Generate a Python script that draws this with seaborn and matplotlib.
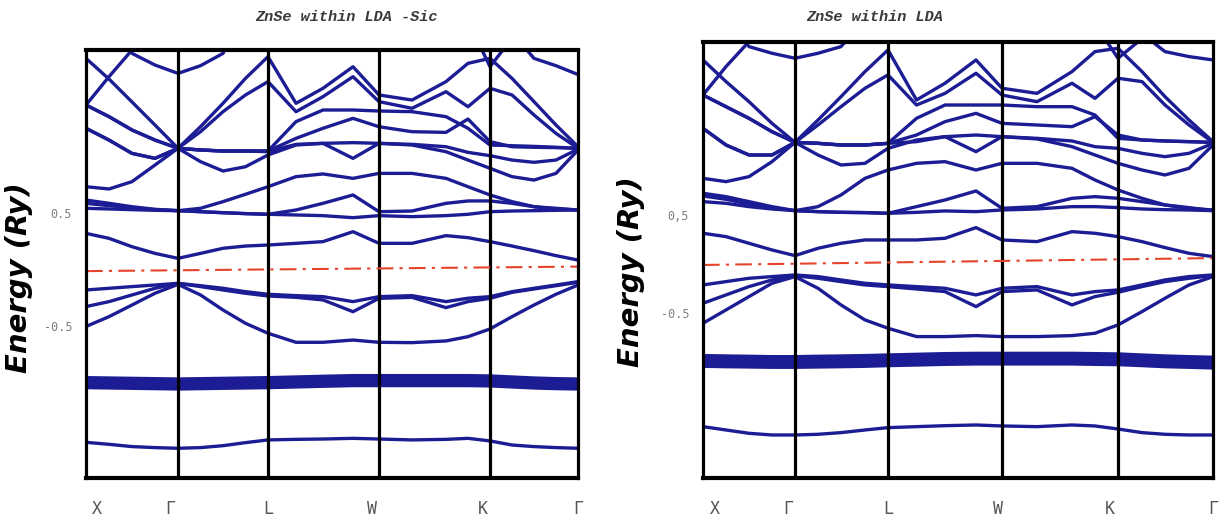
import numpy as np
import pandas as pd
import matplotlib
matplotlib.use("Agg")
import matplotlib.pyplot as plt
import seaborn as sns

# ---------------- data ----------------
# k-path sample positions (path distance) and high-symmetry points
k_left = [0, 23, 46, 69, 92, 114.5, 137, 159.5, 182, 210, 237, 267, 293, 326, 360, 382, 404, 426, 448, 470, 492]
k_right = [0, 23, 46, 69, 92, 115, 138, 162, 185, 213.5, 242, 273, 299, 334, 369, 392, 415, 439, 462, 486, 510]
sym_left = [0, 92, 182, 293, 404, 492]
sym_right = [0, 92, 185, 299, 415, 510]
kpoint_labels = ["X", "Γ", "L", "W", "K", "Γ"]
label_pos_left = [11, 84, 182, 286, 397, 492]
label_pos_right = [12, 85, 185, 295, 407, 510]

titles = ["ZnSe within LDA -Sic", "ZnSe within LDA"]
ylabel = "Energy (Ry)"
ytick_vals = [0.5, -0.5]
ytick_labels_left = ["0.5", "-0.5"]
ytick_labels_right = ["0,5", "-0.5"]
fermi_left = [-0.01, 0.03]
fermi_right = [-0.01, 0.06]

# ---- left panel (LDA-SIC) energies (Ry) ----
L_bottom = [-1.525, -1.543, -1.563, -1.572, -1.578, -1.572, -1.555, -1.528, -1.504, -1.499, -1.496, -1.490, -1.496, -1.504, -1.499, -1.490, -1.513, -1.549, -1.563, -1.572, -1.578]
L_d_top = [-0.953, -0.956, -0.959, -0.962, -0.965, -0.962, -0.959, -0.956, -0.953, -0.947, -0.941, -0.935, -0.935, -0.935, -0.935, -0.935, -0.938, -0.947, -0.956, -0.962, -0.965]
L_d_bot = [-1.041, -1.044, -1.047, -1.050, -1.053, -1.050, -1.047, -1.044, -1.041, -1.035, -1.029, -1.023, -1.023, -1.023, -1.023, -1.023, -1.026, -1.035, -1.044, -1.050, -1.053]
L_vb3 = [-0.500, -0.413, -0.310, -0.206, -0.127, -0.221, -0.354, -0.472, -0.560, -0.640, -0.640, -0.620, -0.640, -0.643, -0.628, -0.590, -0.522, -0.413, -0.310, -0.215, -0.133]
L_vb2 = [-0.324, -0.280, -0.221, -0.162, -0.118, -0.147, -0.177, -0.206, -0.230, -0.242, -0.265, -0.369, -0.251, -0.242, -0.333, -0.280, -0.251, -0.198, -0.168, -0.139, -0.109]
L_vb1 = [-0.177, -0.162, -0.147, -0.133, -0.118, -0.139, -0.162, -0.192, -0.215, -0.227, -0.236, -0.280, -0.236, -0.227, -0.280, -0.250, -0.236, -0.192, -0.162, -0.133, -0.103]
L_cb1 = [0.324, 0.280, 0.206, 0.147, 0.103, 0.147, 0.192, 0.212, 0.221, 0.236, 0.251, 0.339, 0.236, 0.236, 0.304, 0.286, 0.251, 0.212, 0.171, 0.127, 0.088]
L_cb2 = [0.546, 0.540, 0.534, 0.528, 0.525, 0.516, 0.507, 0.499, 0.493, 0.487, 0.481, 0.463, 0.481, 0.472, 0.481, 0.493, 0.516, 0.522, 0.525, 0.528, 0.531]
L_cb3 = [0.619, 0.590, 0.560, 0.537, 0.525, 0.546, 0.605, 0.670, 0.737, 0.826, 0.850, 0.811, 0.855, 0.855, 0.811, 0.737, 0.664, 0.605, 0.560, 0.540, 0.531]
L_cb4 = [0.590, 0.569, 0.552, 0.534, 0.525, 0.516, 0.507, 0.499, 0.493, 0.531, 0.590, 0.664, 0.516, 0.522, 0.590, 0.611, 0.611, 0.590, 0.560, 0.546, 0.531]
L_cb5 = [0.737, 0.717, 0.782, 0.929, 1.077, 0.959, 0.876, 0.914, 1.018, 1.106, 1.121, 0.988, 1.121, 1.106, 1.047, 0.973, 0.900, 0.826, 0.796, 0.855, 1.062]
L_cb6 = [1.254, 1.150, 1.032, 0.988, 1.077, 1.062, 1.053, 1.053, 1.047, 1.112, 1.121, 1.127, 1.121, 1.112, 1.091, 1.041, 1.012, 0.973, 0.953, 0.973, 1.070]
L_cb7 = [1.254, 1.150, 1.032, 0.988, 1.077, 1.062, 1.053, 1.053, 1.053, 1.165, 1.254, 1.342, 1.268, 1.224, 1.218, 1.336, 1.136, 1.091, 1.086, 1.083, 1.077]
L_cb8 = [1.460, 1.357, 1.239, 1.150, 1.077, 1.062, 1.053, 1.053, 1.053, 1.313, 1.416, 1.416, 1.407, 1.401, 1.357, 1.254, 1.106, 1.100, 1.094, 1.086, 1.077]
L_cb9 = [1.460, 1.357, 1.239, 1.150, 1.077, 1.224, 1.401, 1.549, 1.667, 1.401, 1.534, 1.711, 1.490, 1.431, 1.578, 1.445, 1.608, 1.549, 1.372, 1.209, 1.077]
L_cb10 = [1.873, 1.690, 1.487, 1.283, 1.077, 1.268, 1.475, 1.696, 1.888, 1.475, 1.608, 1.799, 1.549, 1.504, 1.667, 1.829, 1.873, 1.696, 1.490, 1.283, 1.091]
L_cb11 = [1.460, 1.711, 1.947, 2.168, 2.400, 2.400, 2.400, 2.400, 2.400, 2.400, 2.400, 2.400, 2.400, 2.400, 2.400, 2.200, 1.800, 2.050, 2.400, 2.400, 2.400]
L_cb12 = [2.500, 2.300, 1.917, 1.814, 1.740, 1.808, 1.917, 2.300, 2.500, 2.500, 2.500, 2.500, 2.500, 2.500, 2.500, 2.500, 2.500, 2.100, 1.873, 1.808, 1.730]

# ---- right panel (LDA) energies (Ry) ----
R_bottom = [-1.660, -1.694, -1.728, -1.745, -1.745, -1.738, -1.721, -1.694, -1.670, -1.660, -1.650, -1.643, -1.653, -1.660, -1.643, -1.653, -1.684, -1.721, -1.738, -1.745, -1.745]
R_d_top = [-0.935, -0.939, -0.942, -0.946, -0.946, -0.942, -0.939, -0.935, -0.929, -0.922, -0.915, -0.912, -0.912, -0.912, -0.912, -0.915, -0.918, -0.929, -0.939, -0.946, -0.952]
R_d_bot = [-1.044, -1.048, -1.051, -1.054, -1.054, -1.051, -1.048, -1.044, -1.037, -1.031, -1.024, -1.020, -1.020, -1.020, -1.020, -1.024, -1.027, -1.037, -1.048, -1.054, -1.061]
R_vb3 = [-0.605, -0.469, -0.333, -0.197, -0.129, -0.248, -0.418, -0.571, -0.656, -0.741, -0.741, -0.731, -0.741, -0.741, -0.731, -0.707, -0.622, -0.486, -0.350, -0.214, -0.129]
R_vb2 = [-0.401, -0.316, -0.231, -0.163, -0.119, -0.146, -0.180, -0.214, -0.231, -0.255, -0.282, -0.435, -0.282, -0.265, -0.418, -0.333, -0.289, -0.231, -0.180, -0.146, -0.119]
R_vb1 = [-0.214, -0.180, -0.146, -0.129, -0.112, -0.129, -0.163, -0.197, -0.214, -0.231, -0.248, -0.316, -0.248, -0.231, -0.316, -0.282, -0.265, -0.214, -0.163, -0.129, -0.112]
R_cb1 = [0.313, 0.279, 0.211, 0.143, 0.085, 0.160, 0.211, 0.245, 0.245, 0.245, 0.262, 0.371, 0.245, 0.228, 0.330, 0.313, 0.279, 0.228, 0.167, 0.109, 0.075]
R_cb2 = [0.636, 0.619, 0.585, 0.561, 0.544, 0.534, 0.527, 0.524, 0.517, 0.527, 0.541, 0.534, 0.551, 0.561, 0.585, 0.585, 0.575, 0.561, 0.554, 0.551, 0.544]
R_cb3 = [0.721, 0.687, 0.636, 0.585, 0.544, 0.585, 0.704, 0.874, 0.959, 1.027, 1.044, 0.959, 1.027, 1.027, 0.976, 0.857, 0.755, 0.670, 0.602, 0.568, 0.551]
R_cb4 = [0.694, 0.660, 0.609, 0.575, 0.544, 0.534, 0.527, 0.524, 0.517, 0.585, 0.653, 0.745, 0.568, 0.585, 0.670, 0.687, 0.670, 0.636, 0.602, 0.575, 0.544]
R_cb5 = [0.874, 0.840, 0.891, 1.044, 1.241, 1.112, 1.010, 1.027, 1.180, 1.265, 1.299, 1.146, 1.299, 1.276, 1.197, 1.112, 1.027, 0.959, 0.908, 0.976, 1.214]
R_cb6 = [1.384, 1.214, 1.112, 1.112, 1.241, 1.231, 1.214, 1.214, 1.231, 1.248, 1.299, 1.316, 1.299, 1.282, 1.255, 1.197, 1.180, 1.129, 1.095, 1.129, 1.231]
R_cb7 = [1.384, 1.214, 1.112, 1.112, 1.241, 1.231, 1.214, 1.214, 1.231, 1.316, 1.452, 1.537, 1.435, 1.418, 1.401, 1.503, 1.316, 1.265, 1.255, 1.248, 1.241]
R_cb8 = [1.724, 1.605, 1.486, 1.350, 1.241, 1.231, 1.214, 1.214, 1.231, 1.486, 1.622, 1.622, 1.622, 1.605, 1.605, 1.520, 1.282, 1.265, 1.255, 1.248, 1.241]
R_cb9 = [1.724, 1.605, 1.486, 1.350, 1.241, 1.418, 1.605, 1.793, 1.929, 1.622, 1.741, 1.946, 1.724, 1.656, 1.844, 1.690, 1.895, 1.861, 1.622, 1.418, 1.241]
R_cb10 = [2.082, 1.861, 1.656, 1.435, 1.241, 1.469, 1.707, 1.963, 2.184, 1.673, 1.844, 2.082, 1.793, 1.741, 1.963, 2.167, 2.201, 1.963, 1.707, 1.469, 1.248]
R_cb11 = [1.724, 2.014, 2.269, 2.500, 2.600, 2.600, 2.600, 2.600, 2.600, 2.600, 2.600, 2.600, 2.600, 2.600, 2.600, 2.450, 2.099, 2.300, 2.600, 2.600, 2.600]
R_cb12 = [2.600, 2.500, 2.218, 2.150, 2.099, 2.150, 2.218, 2.500, 2.600, 2.600, 2.600, 2.600, 2.600, 2.600, 2.600, 2.600, 2.600, 2.350, 2.167, 2.116, 2.082]

ylim_left = (-1.841, 1.947)
ylim_right = (-2.184, 2.265)

# ---------------- style ----------------
BAND = "#1c1c94"
sns.set_theme(style="white")
plt.rcParams["font.family"] = ["DejaVu Sans"]

W, H = 1220, 522
fig = plt.figure(figsize=(W / 100, H / 100), dpi=100)
axL = fig.add_axes([86 / W, 44 / H, 492 / W, 428 / H])
axR = fig.add_axes([703 / W, 44 / H, 510 / W, 436 / H])


def panel(ax, k, bands, d_top, d_bot, sym, ylim, fermi, label_pos, ytl):
    rows = []
    for name, vals in bands.items():
        for kk, e in zip(k, vals):
            rows.append((name, kk, e))
    df = pd.DataFrame(rows, columns=["band", "k", "E"])
    ax.fill_between(k, d_bot, d_top, color=BAND, lw=0, zorder=2)
    sns.lineplot(data=df, x="k", y="E", units="band", estimator=None,
                 color=BAND, lw=2.4, ax=ax, sort=False, zorder=3)
    for s in sym[1:-1]:
        ax.axvline(s, color="black", lw=2.3, zorder=4)
    ax.plot([k[0], k[-1]], fermi, color="#e5432c", ls="-.", lw=1.5, zorder=5,
            dashes=(8, 3, 1.5, 3))
    ax.set_xlim(sym[0], sym[-1])
    ax.set_ylim(*ylim)
    ax.set_xlabel("")
    ax.set_ylabel("")
    ax.set_xticks(label_pos)
    ax.set_xticklabels(kpoint_labels, family="DejaVu Sans Mono", fontsize=12, color="#555555")
    ax.set_yticks(ytick_vals)
    ax.set_yticklabels(ytl, family="DejaVu Sans Mono", fontsize=8.5, color="#808080")
    ax.tick_params(axis="x", length=0, pad=16)
    ax.tick_params(axis="y", length=0, pad=10)
    for side, sp in ax.spines.items():
        sp.set_color("black")
        sp.set_linewidth(3.0 if side in ("top", "bottom") else 2.3)
        sp.set_zorder(6)


bands_left = {"bottom": L_bottom, "d_top": L_d_top, "d_bot": L_d_bot,
              "vb3": L_vb3, "vb2": L_vb2, "vb1": L_vb1,
              "cb1": L_cb1, "cb2": L_cb2, "cb3": L_cb3, "cb4": L_cb4,
              "cb5": L_cb5, "cb6": L_cb6, "cb7": L_cb7, "cb8": L_cb8,
              "cb9": L_cb9, "cb10": L_cb10, "cb11": L_cb11, "cb12": L_cb12}
bands_right = {"bottom": R_bottom, "d_top": R_d_top, "d_bot": R_d_bot,
               "vb3": R_vb3, "vb2": R_vb2, "vb1": R_vb1,
               "cb1": R_cb1, "cb2": R_cb2, "cb3": R_cb3, "cb4": R_cb4,
               "cb5": R_cb5, "cb6": R_cb6, "cb7": R_cb7, "cb8": R_cb8,
               "cb9": R_cb9, "cb10": R_cb10, "cb11": R_cb11, "cb12": R_cb12}

panel(axL, k_left, bands_left, L_d_top, L_d_bot, sym_left, ylim_left, fermi_left,
      label_pos_left, ytick_labels_left)
panel(axR, k_right, bands_right, R_d_top, R_d_bot, sym_right, ylim_right, fermi_right,
      label_pos_right, ytick_labels_right)

fig.text(346 / W, 1 - 17 / H, titles[0], ha="center", va="center",
         family="Liberation Mono", fontsize=11, style="italic", fontweight="bold",
         color="#3a3a3a")
fig.text(875 / W, 1 - 17 / H, titles[1], ha="center", va="center",
         family="Liberation Mono", fontsize=11, style="italic", fontweight="bold",
         color="#3a3a3a")
fig.text(19 / W, 1 - 278 / H, ylabel, rotation=90, ha="center", va="center",
         fontsize=21, fontweight="bold", style="italic", color="black")
fig.text(631 / W, 1 - 272 / H, ylabel, rotation=90, ha="center", va="center",
         fontsize=21, fontweight="bold", style="italic", color="black")

fig.savefig("out.png", dpi=100, facecolor="white")
